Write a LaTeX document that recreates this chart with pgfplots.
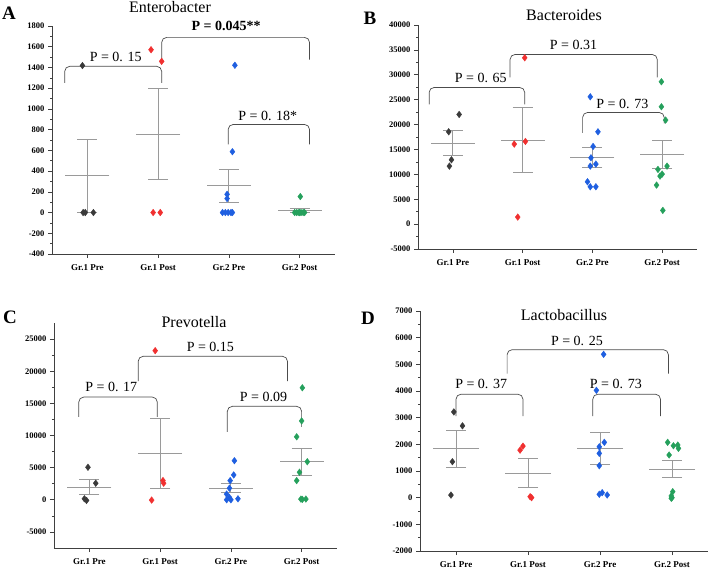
\documentclass[border=0pt]{standalone}
\usepackage{fontspec}
\setmainfont{Liberation Serif}
\usepackage{pgfplots}
\pgfplotsset{compat=1.18}

\definecolor{cblk}{HTML}{3A3A3A}
\definecolor{cred}{HTML}{F03030}
\definecolor{cblu}{HTML}{1F5FE0}
\definecolor{cgrn}{HTML}{25A05C}
\definecolor{semc}{HTML}{9A9A9A}

\pgfplotsset{
  dotplot/.style={
    scale only axis, axis lines*=left, xmin=0.5, xmax=4.5,
    xtick={1,2,3,4}, xticklabels={Gr.1 Pre, Gr.1 Post, Gr.2 Pre, Gr.2 Post},
    tick align=outside, major tick length=4pt, minor tick length=2pt,
    minor y tick num=1, minor x tick num=0,
    axis line style={black!75, line width=0.7pt},
    tick style={black!75, line width=0.6pt},
    yticklabel style={font=\fontsize{8.5}{9}\selectfont\bfseries},
    xticklabel style={font=\fontsize{9}{10}\selectfont\bfseries, yshift=-3pt},
    /pgf/number format/assume math mode=true,
    /pgf/number format/1000 sep={},
    scaled y ticks=false, clip=false,
  },
  pts/.style={only marks, mark=diamond*, mark size=3.3pt,
    mark options={fill=#1, draw=#1}},
  sem/.style={only marks, mark=-, mark size=#1,
    mark options={draw=semc, line width=0.9pt},
    error bars/.cd, y dir=both, y explicit,
    error bar style={semc, line width=0.9pt},
    error mark=|, error mark options={draw=semc, mark size=10pt, line width=0.9pt}},
}
\tikzset{pv/.style={font=\fontsize{14}{14}\selectfont, inner sep=0pt},
  brk/.style={draw=black!70, rounded corners=5pt, line width=0.7pt},
  ttl/.style={font=\fontsize{16}{16}\selectfont, inner sep=0pt},
  lett/.style={font=\fontsize{19}{19}\selectfont\bfseries, inner sep=0pt}}

\begin{document}
\begin{tikzpicture}[x=1pt,y=1pt]
\useasboundingbox (0,0) rectangle (720,571);

% ---------- A: Enterobacter ----------
\begin{axis}[dotplot, at={(52pt,317pt)}, anchor=south west,
  width=283pt, height=228pt, ymin=-400, ymax=1800,
  ytick={-400,-200,...,1800}]
\addplot[sem=22pt] table[x=x,y=m,y error=e] {
x m e
1 355 355
2 757 437
3 258 157
4 19 19
};
\addplot[pts=cblk] coordinates {(0.94,0) (0.97,0) (1.085,0) (0.93,1418)};
\addplot[pts=cred] coordinates {(1.90,1571) (2.05,1459) (1.93,0) (2.03,0)};
\addplot[pts=cblu] coordinates {(3.085,1421) (3.05,587) (2.975,176) (2.975,135)
  (2.91,0) (2.95,0) (2.99,0) (3.03,0) (3.05,0)};
\addplot[pts=cgrn] coordinates {(4.01,154) (3.93,0) (3.96,0) (3.99,0) (4.02,0)
  (4.05,0) (4.07,0) (4.0,0)};
\draw[brk] (axis cs:0.68,1250) -- (axis cs:0.68,1411) -- (axis cs:2.05,1411) -- (axis cs:2.05,1250);
\draw[brk] (axis cs:2.05,1459) -- (axis cs:2.05,1690) -- (axis cs:4.14,1690) -- (axis cs:4.14,1475);
\draw[brk] (axis cs:2.99,657) -- (axis cs:2.99,850) -- (axis cs:4.14,850) -- (axis cs:4.14,657);
\node[pv] at (axis cs:1.40,1500) {P = 0. 15};
\node[pv, font=\fontsize{14}{14}\selectfont\bfseries] at (axis cs:2.96,1796) {P = 0.045**};
\node[pv] at (axis cs:3.55,930) {P = 0. 18*};
\end{axis}

% ---------- B: Bacteroides ----------
\begin{axis}[dotplot, at={(418pt,322pt)}, anchor=south west,
  width=279pt, height=224pt, ymin=-5000, ymax=40000,
  ytick={-5000,0,...,40000}]
\addplot[sem=22pt] table[x=x,y=m,y error=e] {
x m e
1 16290 2440
2 16870 6560
3 13390 2010
4 13960 2780
};
\addplot[pts=cblk] coordinates {(0.94,18548) (1.09,22030) (0.98,12923) (0.95,11650)};
\addplot[pts=cred] coordinates {(2.03,33413) (1.88,16070) (2.04,16606) (1.93,1406)};
\addplot[pts=cblu] coordinates {(2.97,25580) (3.08,18548) (3.01,15602) (2.98,13325)
  (2.97,11650) (3.05,12052) (2.93,8503) (2.97,7498) (3.05,7498)};
\addplot[pts=cgrn] coordinates {(3.99,28592) (3.99,23570) (4.05,20892) (4.07,11650)
  (3.94,10981) (4.0,10044) (3.97,9642) (3.92,7834) (4.01,2755)};
\draw[brk] (axis cs:0.66,24039) -- (axis cs:0.66,27453) -- (axis cs:2.03,27453) -- (axis cs:2.03,24039);
\draw[brk] (axis cs:1.82,29462) -- (axis cs:1.82,34082) -- (axis cs:3.93,34082) -- (axis cs:3.93,29462);
\draw[brk] (axis cs:2.86,18347) -- (axis cs:2.86,22432) -- (axis cs:4.03,22432) -- (axis cs:4.03,20222);
\node[pv] at (axis cs:1.40,29462) {P = 0. 65};
\node[pv] at (axis cs:2.73,36090) {P = 0.31};
\node[pv] at (axis cs:3.43,24240) {P = 0. 73};
\end{axis}

% ---------- C: Prevotella ----------
\begin{axis}[dotplot, at={(54pt,23pt)}, anchor=south west,
  width=283pt, height=225pt, ymin=-7500, ymax=27500,
  ytick={-5000,0,...,25000}]
\addplot[sem=22pt] table[x=x,y=m,y error=e] {
x m e
1 1950 1190
2 7150 5450
3 1800 720
4 5900 2080
};
\addplot[pts=cblk] coordinates {(0.98,5052) (1.09,2577) (0.93,155) (0.96,-100)};
\addplot[pts=cred] coordinates {(1.93,23197) (2.04,2990) (2.05,2577) (1.88,-50)};
\addplot[pts=cblu] coordinates {(3.05,6077) (3.04,3866) (2.99,2985) (2.98,1809)
  (2.94,881) (2.98,356) (3.0,0) (3.1,155) (2.94,0)};
\addplot[pts=cgrn] coordinates {(4.01,17424) (4.0,12269) (3.93,9795) (4.08,5923)
  (3.97,4284) (3.93,2985) (3.99,108) (4.06,108) (4.01,60)};
\draw[brk] (axis cs:0.85,12887) -- (axis cs:0.85,15980) -- (axis cs:1.96,15980) -- (axis cs:1.96,12887);
\draw[brk] (axis cs:1.69,18455) -- (axis cs:1.69,22321) -- (axis cs:3.8,22321) -- (axis cs:3.8,18455);
\draw[brk] (axis cs:2.95,10568) -- (axis cs:2.95,14537) -- (axis cs:4.0,14537) -- (axis cs:4.0,11341);
\node[pv] at (axis cs:1.31,17527) {P = 0. 17};
\node[pv] at (axis cs:2.71,23713) {P = 0.15};
\node[pv] at (axis cs:3.46,15980) {P = 0.09};
\end{axis}

% ---------- D: Lactobacillus ----------
\begin{axis}[dotplot, at={(420pt,20pt)}, anchor=south west,
  width=288pt, height=240pt, ymin=-2000, ymax=7000,
  ytick={-2000,-1000,...,7000}]
\addplot[sem=23pt] table[x=x,y=m,y error=e] {
x m e
1 1832 699
2 923 536
3 1837 593
4 1063 318
};
\addplot[pts=cblk] coordinates {(0.97,3216) (1.09,2693) (0.95,1348) (0.93,97)};
\addplot[pts=cred] coordinates {(1.89,1782) (1.93,1932) (2.03,35) (2.05,0)};
\addplot[pts=cblu] coordinates {(3.05,5375) (2.95,4027) (3.06,2074) (2.99,1909)
  (2.99,1662) (2.99,1198) (3.03,187) (2.99,127) (3.1,101)};
\addplot[pts=cgrn] coordinates {(3.94,2074) (4.02,1947) (4.08,1973) (4.09,1849)
  (3.96,1599) (4.01,225) (3.99,64) (3.99,-22) (4.0,0)};
\draw[brk] (axis cs:1.0,3056) -- (axis cs:1.0,3880) -- (axis cs:1.93,3880) -- (axis cs:1.93,3056);
\draw[brk] (axis cs:1.71,4650) -- (axis cs:1.71,5550) -- (axis cs:3.95,5550) -- (axis cs:3.95,4650);
\draw[brk] (axis cs:2.9,3056) -- (axis cs:2.9,3880) -- (axis cs:3.84,3880) -- (axis cs:3.84,3056);
\node[pv] at (axis cs:1.35,4254) {P = 0. 37};
\node[pv] at (axis cs:2.68,5874) {P = 0. 25};
\node[pv] at (axis cs:3.22,4254) {P = 0. 73};
\end{axis}

% titles and panel letters (y measured from top: 571 - y)
\node[ttl] at (170,564) {Enterobacter};
\node[ttl] at (564,556) {Bacteroides};
\node[ttl] at (194,249) {Prevotella};
\node[ttl] at (564,256) {Lactobacillus};
\node[lett] at (9,558) {A};
\node[lett] at (370,553) {B};
\node[lett] at (10,254) {C};
\node[lett] at (368,253) {D};
\end{tikzpicture}
\end{document}
